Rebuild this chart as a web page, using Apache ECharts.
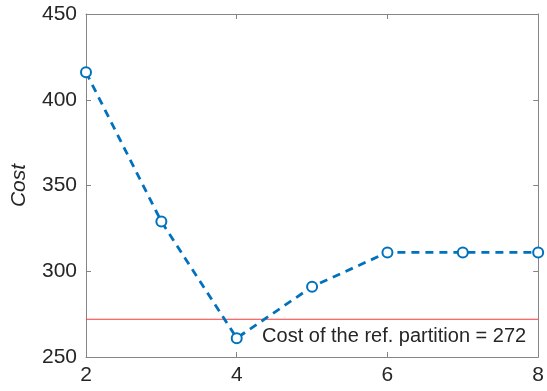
<!DOCTYPE html>
<html style="height: 391px;width: 547px;">
<head>
  <meta charset="UTF-8">
  <title>Cost</title>
  <script src="https://cdn.jsdelivr.net/npm/echarts@6/dist/echarts.min.js"></script>
</head>
<body style="margin: 0;height: 100%;width: 100%;background: #fff;">
  <div id="cost_chart" style="width: 547px;height: 391px;"></div>
<script>
  // number of parts and the cost found for each
  var parts = [2, 3, 4, 5, 6, 7, 8];
  var costs = [416, 329, 261, 291, 311, 311, 311];
  var refCost = 272;
  var refLabel = 'Cost of the ref. partition = ' + refCost;
  var xTicks = [2, 4, 6, 8];
  var yTicks = [250, 300, 350, 400, 450];

  var axisGray = '#858585';
  var textColor = '#262626';
  var refRed = '#ff3b3b';
  var font = 'Liberation Sans, Arial, sans-serif';

  var pts = [];
  for (var i = 0; i < parts.length; ++i) {
    pts.push([parts[i], costs[i]]);
  }
  // reference line runs across the whole x range
  var refPts = [[xTicks[0], refCost], [xTicks[xTicks.length - 1], refCost]];

  function boxAxis(pos, isX, showLabels) {
    return {
      type: 'value',
      position: pos,
      min: isX ? xTicks[0] : yTicks[0],
      max: isX ? xTicks[xTicks.length - 1] : yTicks[yTicks.length - 1],
      interval: isX ? 2 : 50,
      axisLine: { show: true, onZero: false, lineStyle: { color: axisGray, width: 1 } },
      axisTick: { show: true, inside: true, length: 5, lineStyle: { color: axisGray } },
      splitLine: { show: false },
      axisLabel: {
        show: showLabels,
        color: textColor,
        fontSize: 21,
        fontFamily: font,
        margin: isX ? 8 : 9
      }
    };
  }

  var yMain = boxAxis('left', false, true);
  yMain.name = 'Cost';
  yMain.nameLocation = 'middle';
  yMain.nameGap = 56;
  yMain.nameTextStyle = { color: textColor, fontSize: 21, fontStyle: 'italic', fontFamily: font };

  var option = {
    animation: false,
    grid: { left: 86, right: 7, top: 14, bottom: 34 },
    xAxis: [boxAxis('bottom', true, true), boxAxis('top', true, false)],
    yAxis: [yMain, boxAxis('right', false, false)],
    series: [{
      type: 'line',
      data: refPts,
      symbol: 'none',
      silent: true,
      z: 1,
      lineStyle: { color: refRed, width: 1 },
      itemStyle: { color: refRed },
      markLine: {
        silent: true,
        symbol: ['none', 'none'],
        lineStyle: { color: refRed, width: 0 },
        label: {
          show: true,
          position: 'insideEndBottom',
          formatter: refLabel,
          color: textColor,
          fontSize: 20,
          fontFamily: font,
          distance: [12, 7]
        },
        data: [{ yAxis: refCost }]
      }
    }, {
      type: 'line',
      data: pts,
      z: 3,
      symbol: 'emptyCircle',
      symbolSize: 10,
      lineStyle: { color: '#0072BD', width: 2.8, type: [8, 6] },
      itemStyle: { color: '#0072BD', borderWidth: 2.4, borderColor: '#0072BD' }
    }]
  };

  var chart = echarts.init(document.getElementById('cost_chart'));
  chart.setOption(option);
</script>
</body>
</html>
